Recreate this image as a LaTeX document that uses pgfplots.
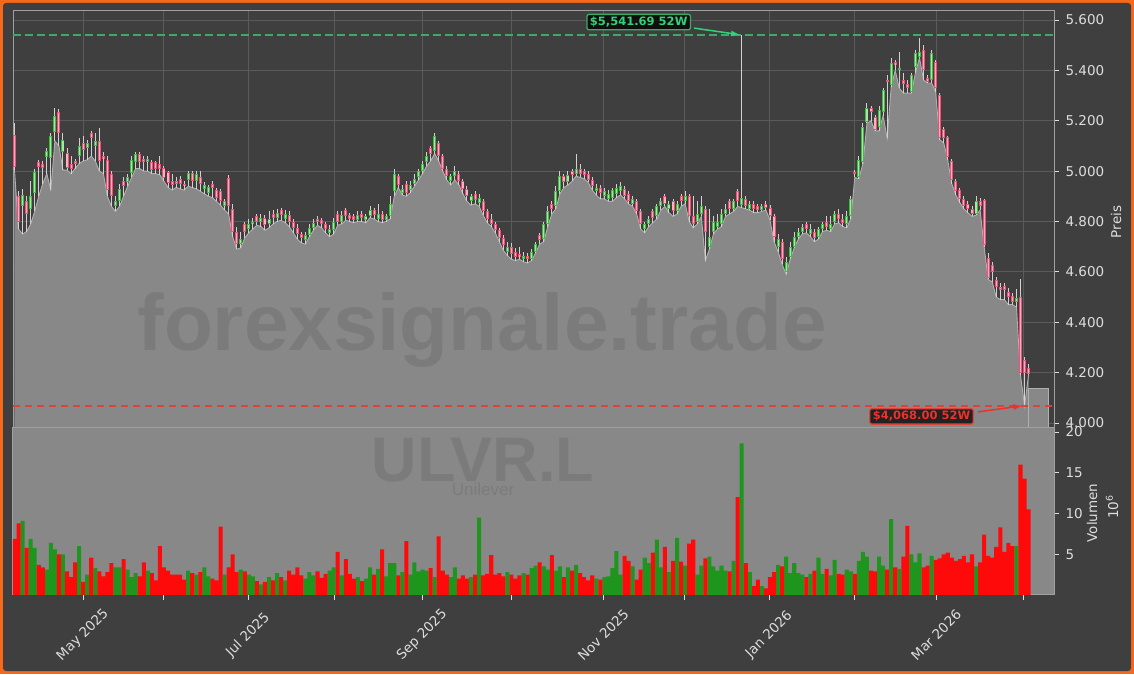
\documentclass[border=0pt]{standalone}
\usepackage{pgfplots}
\pgfplotsset{compat=1.18}
\usepackage{pgfplotstable}
\usepackage{fontspec}
\setmainfont{DejaVu Sans}
\newfontfamily\wmfont{Liberation Sans}
\usetikzlibrary{arrows.meta}

\definecolor{bg}{HTML}{3F3F3F}
\definecolor{frame}{HTML}{F56A1A}
\definecolor{areafill}{HTML}{888888}
\definecolor{arealine}{HTML}{B0B0B0}
\definecolor{gridc}{HTML}{5A5A5A}
\definecolor{spine}{HTML}{A0A0A0}
\definecolor{ticktext}{HTML}{DDDDDD}
\definecolor{upedge}{HTML}{45B845}
\definecolor{upfill}{HTML}{A8E6A8}
\definecolor{dnedge}{HTML}{EE5078}
\definecolor{dnfill}{HTML}{FFB0C0}
\definecolor{wick}{HTML}{D6CED0}
\definecolor{volup}{HTML}{1E961E}
\definecolor{voldn}{HTML}{FF0A0A}
\definecolor{hiline}{HTML}{3DAA6A}
\definecolor{hitext}{HTML}{33D17A}
\definecolor{loline}{HTML}{D9443C}
\definecolor{lotext}{HTML}{F0302A}

% i = trading day, o h l c in pence, v in millions
\pgfplotstableread{
i o h l c v
0 5143 5190 5005 5017 6.9
1 4900 4920 4770 4800 8.8
2 4860 4930 4750 4905 9.1
3 4880 4900 4760 4830 5.8
4 4850 4960 4790 4900 6.9
5 4913 5010 4840 4997 5.8
6 5036 5045 4900 5017 3.7
7 5030 5040 4950 5012 3.4
8 5056 5090 4990 5080 3.1
9 5052 5150 4925 5139 6.4
10 5155 5250 5120 5219 5.6
11 5235 5245 5100 5151 5.0
12 5076 5150 5004 5124 5.0
13 5072 5090 5004 5012 2.9
14 5030 5060 4990 5010 2.2
15 5040 5050 5010 5030 4.0
16 5060 5130 5030 5100 6.0
17 5110 5140 5040 5085 1.6
18 5090 5125 5045 5110 2.5
19 5150 5160 5060 5130 4.6
20 5100 5150 5040 5120 3.3
21 5120 5170 5000 5040 2.9
22 5060 5075 4990 5048 2.3
23 5044 5060 4900 4925 2.8
24 4990 5000 4860 4900 3.9
25 4860 4900 4840 4880 3.4
26 4880 4950 4860 4930 3.4
27 4960 4975 4900 4940 4.4
28 4957 4990 4940 4977 3.1
29 4993 5060 4975 5044 2.2
30 5036 5075 5010 5068 2.7
31 5068 5075 5010 5036 2.3
32 5050 5060 5000 5036 4.0
33 5036 5060 5000 5050 3.0
34 5036 5045 4990 5004 2.7
35 5036 5040 4990 5010 1.8
36 5030 5060 4985 5010 6.0
37 5012 5020 4960 4973 3.4
38 4997 5000 4935 4953 3.0
39 4960 4990 4925 4945 2.5
40 4962 4975 4935 4950 2.5
41 4970 4980 4930 4950 2.5
42 4950 4960 4925 4940 1.9
43 4965 5000 4940 4993 3.0
44 4993 5000 4935 4960 2.7
45 4960 5000 4930 4990 2.5
46 4975 5000 4920 4950 2.8
47 4930 4955 4910 4945 3.4
48 4913 4945 4900 4937 2.3
49 4950 4960 4895 4935 2.0
50 4925 4935 4880 4893 1.8
51 4920 4930 4865 4880 8.4
52 4860 4890 4845 4880 2.5
53 4973 4985 4830 4860 3.4
54 4850 4870 4740 4760 5.0
55 4760 4780 4690 4710 2.8
56 4710 4760 4695 4730 3.1
57 4790 4800 4735 4760 2.9
58 4770 4810 4755 4790 2.5
59 4790 4815 4770 4800 2.3
60 4820 4830 4785 4800 1.7
61 4800 4830 4780 4815 1.3
62 4815 4825 4765 4785 1.6
63 4790 4840 4775 4810 2.2
64 4830 4845 4790 4815 1.8
65 4815 4850 4800 4835 2.7
66 4845 4855 4805 4825 2.2
67 4810 4845 4795 4830 1.8
68 4825 4840 4780 4800 3.0
69 4800 4810 4755 4775 2.5
70 4775 4790 4730 4750 3.4
71 4750 4760 4715 4735 2.4
72 4725 4760 4710 4745 2.0
73 4745 4790 4740 4775 2.8
74 4775 4810 4765 4795 2.4
75 4810 4820 4785 4800 2.9
76 4805 4815 4775 4790 2.1
77 4790 4800 4755 4770 2.6
78 4755 4785 4740 4770 3.0
79 4765 4815 4750 4800 3.4
80 4830 4840 4785 4800 5.3
81 4800 4840 4790 4825 2.4
82 4845 4855 4805 4820 4.4
83 4825 4835 4800 4810 2.6
84 4820 4830 4795 4805 2.0
85 4805 4840 4800 4825 2.2
86 4830 4840 4800 4815 1.7
87 4805 4830 4795 4820 2.0
88 4820 4860 4815 4845 3.4
89 4845 4855 4810 4825 2.5
90 4810 4870 4800 4830 3.2
91 4830 4840 4795 4805 5.6
92 4805 4830 4800 4820 2.3
93 4820 4900 4810 4870 3.9
94 4920 5010 4900 4990 3.9
95 4980 4990 4935 4945 2.4
96 4915 4945 4905 4930 2.8
97 4950 4960 4900 4915 6.6
98 4925 4960 4915 4945 2.5
99 4950 4990 4940 4970 4.0
100 4975 5010 4965 5000 2.9
101 5000 5040 4990 5030 3.1
102 5035 5075 5020 5060 3.0
103 5090 5100 5040 5070 3.3
104 5080 5150 5070 5140 2.2
105 5110 5120 5040 5060 7.2
106 5060 5070 5000 5010 3.0
107 5010 5020 4965 4980 2.5
108 4960 4990 4945 4980 2.2
109 4980 5020 4965 5000 3.4
110 4990 5000 4945 4960 2.0
111 4960 4970 4910 4930 2.4
112 4930 4940 4880 4900 2.0
113 4880 4910 4865 4900 2.2
114 4910 4920 4870 4885 2.5
115 4875 4910 4860 4895 9.5
116 4880 4890 4825 4840 2.4
117 4840 4850 4795 4810 2.6
118 4810 4830 4780 4790 4.9
119 4790 4800 4755 4765 2.5
120 4765 4775 4720 4735 2.7
121 4735 4745 4685 4705 2.3
122 4680 4720 4665 4700 2.8
123 4700 4715 4650 4670 2.5
124 4680 4695 4645 4660 2.0
125 4670 4700 4650 4660 2.4
126 4650 4680 4640 4665 2.7
127 4665 4675 4635 4650 2.5
128 4650 4690 4645 4680 3.3
129 4680 4720 4675 4710 3.6
130 4745 4755 4710 4725 4.0
131 4730 4800 4720 4790 3.5
132 4790 4860 4780 4840 3.1
133 4870 4880 4830 4850 4.9
134 4860 4940 4850 4920 3.0
135 4920 5000 4910 4980 3.5
136 4980 4990 4935 4955 2.2
137 4955 5000 4945 4985 3.4
138 5000 5010 4960 4985 3.0
139 4990 5070 4980 5010 3.7
140 5010 5030 4975 4990 2.7
141 5000 5010 4970 4985 2.2
142 4990 5000 4955 4965 1.8
143 4965 4975 4925 4940 2.4
144 4920 4950 4905 4935 2.0
145 4935 4945 4890 4915 1.9
146 4900 4935 4890 4920 2.2
147 4890 4925 4880 4910 2.3
148 4895 4935 4880 4925 3.3
149 4910 4950 4895 4935 5.4
150 4920 4955 4905 4940 2.5
151 4930 4940 4890 4900 4.8
152 4910 4920 4870 4880 4.2
153 4870 4900 4860 4890 3.5
154 4880 4890 4830 4840 1.9
155 4840 4850 4770 4790 3.1
156 4770 4800 4755 4790 4.6
157 4790 4820 4780 4810 3.9
158 4840 4850 4795 4815 5.2
159 4820 4870 4810 4860 6.8
160 4860 4895 4845 4880 3.4
161 4900 4910 4860 4870 5.9
162 4850 4880 4835 4870 2.8
163 4880 4890 4820 4840 4.2
164 4840 4880 4830 4870 7.0
165 4900 4910 4860 4880 4.1
166 4880 4920 4870 4900 3.6
167 4900 4910 4800 4820 6.3
168 4820 4900 4775 4790 6.8
169 4800 4880 4790 4830 2.5
170 4830 4900 4820 4860 3.6
171 4850 4860 4645 4760 4.5
172 4700 4850 4690 4740 4.7
173 4760 4820 4750 4800 3.5
174 4780 4830 4770 4800 3.0
175 4790 4850 4780 4830 3.6
176 4830 4870 4820 4850 3.0
177 4880 4890 4830 4850 2.9
178 4850 4890 4840 4880 4.2
179 4920 4930 4860 4880 12.0
180 4866 5541.69 4855 4893 18.6
181 4890 4900 4850 4860 3.9
182 4850 4880 4845 4870 2.8
183 4870 4880 4835 4850 1.1
184 4860 4870 4835 4845 1.9
185 4845 4870 4840 4860 1.1
186 4870 4880 4845 4855 0.8
187 4855 4865 4805 4820 2.2
188 4820 4830 4720 4740 2.8
189 4700 4750 4680 4730 3.7
190 4720 4730 4630 4650 3.5
191 4600 4660 4590 4640 4.7
192 4660 4720 4650 4700 2.7
193 4700 4760 4695 4740 3.9
194 4740 4775 4730 4760 2.7
195 4760 4790 4750 4780 2.5
196 4790 4800 4755 4770 2.2
197 4750 4790 4740 4770 2.6
198 4760 4770 4720 4735 3.0
199 4740 4780 4730 4770 4.6
200 4770 4800 4760 4790 2.6
201 4800 4820 4765 4780 3.2
202 4770 4820 4760 4790 2.4
203 4800 4840 4790 4830 4.3
204 4830 4850 4795 4810 2.6
205 4810 4830 4780 4795 2.5
206 4790 4840 4775 4820 3.1
207 4820 4900 4810 4890 2.9
208 4997 5005 4975 4989 2.6
209 4977 5060 4970 5044 4.2
210 5036 5190 5030 5175 5.3
211 5195 5270 5190 5250 4.7
212 5250 5260 5200 5234 3.0
213 5215 5225 5160 5163 2.9
214 5175 5260 5160 5243 4.7
215 5235 5330 5220 5322 3.6
216 5362 5380 5131 5354 3.1
217 5342 5450 5335 5429 9.3
218 5433 5440 5400 5421 3.4
219 5402 5473 5330 5410 3.2
220 5360 5390 5310 5345 4.7
221 5345 5362 5310 5330 8.5
222 5314 5390 5310 5382 5.0
223 5413 5480 5390 5469 4.0
224 5453 5528 5450 5473 5.1
225 5481 5500 5362 5401 3.4
226 5370 5380 5350 5354 3.6
227 5362 5480 5350 5469 4.8
228 5433 5440 5314 5330 4.3
229 5302 5310 5125 5131 4.5
230 5167 5175 5112 5131 5.0
231 5135 5140 5044 5056 5.2
232 5040 5050 4950 4965 4.6
233 4960 4970 4905 4920 4.2
234 4925 4935 4875 4890 4.4
235 4890 4900 4850 4860 4.8
236 4870 4880 4835 4850 4.0
237 4850 4860 4820 4830 5.0
238 4830 4900 4825 4880 3.5
239 4880 4895 4845 4860 4.0
240 4885 4890 4700 4707 7.4
241 4655 4675 4570 4576 4.8
242 4627 4640 4560 4600 4.6
243 4568 4580 4500 4540 5.9
244 4540 4555 4490 4528 8.3
245 4545 4555 4490 4528 5.3
246 4520 4536 4470 4500 6.4
247 4504 4515 4470 4480 6.0
248 4480 4530 4460 4495 6.0
249 4500 4572 4190 4200 16.0
250 4250 4260 4068 4200 14.3
251 4220 4235 4190 4195 10.5
}\data

\pgfplotsset{
  lbl/.style={text=ticktext, font=\fontsize{13.5}{16}\selectfont},
  panel/.style={
    scale only axis, anchor=south west, width=1041pt,
    xmin=-0.37, xmax=257.3,
    axis line style={spine, line width=1pt},
    tick align=outside, major tick length=5pt,
    tick style={ticktext, line width=0.8pt},
    ytick pos=right, yticklabel pos=right,
    yticklabel style={lbl, xshift=3pt,
      /pgf/number format/fixed, /pgf/number format/precision=0,
      /pgf/number format/1000 sep={.},
      /pgf/number format/assume math mode=true},
    scaled y ticks=false,
    clip mode=individual,
  },
  % candle pieces: error bars only, no marks, no line
  bodybar/.style 2 args={draw=none, mark=none, forget plot,
    /pgfplots/error bars/y dir=both, /pgfplots/error bars/y explicit,
    /pgfplots/error bars/error mark=none,
    /pgfplots/error bars/error bar style={draw=#1, line width=#2}},
}

\begin{document}
\begin{tikzpicture}[x=1pt,y=1pt]
\useasboundingbox (0,0) rectangle (1134,674);
\fill[frame] (0,0) rectangle (1134,674);
\fill[bg, rounded corners=3pt] (3,3) rectangle (1131,671);

% price panel
\begin{axis}[panel, at={(13pt,246pt)}, height=417pt,
  ymin=3980, ymax=5636,
  xtick=\empty, ytick={4000,4200,...,5600},
  ymajorgrids, grid style={gridc, line width=0.8pt}]
  \pgfplotsinvokeforeach{16.95,36.76,57.8,79.3,100.9,122.9,145.7,165.7,186.8,207.8,228.1,249.6}{
    \draw[gridc, line width=0.8pt] (axis cs:#1,3980) -- (axis cs:#1,5636);}
  \addplot[draw=none, fill=areafill] table[x=i, y=l] {\data} \closedcycle;
  \addplot[draw=arealine, line width=0.9pt, fill=areafill] coordinates {(251,4139) (255.8,4139)} \closedcycle;
  \addplot[arealine, line width=0.9pt] table[x=i, y=l] {\data};
  % wicks
  \addplot[bodybar={wick}{1pt}]
    table[x=i, y expr={(\thisrow{h}+\thisrow{l})/2}, y error expr={(\thisrow{h}-\thisrow{l})/2}] {\data};
  % rising bodies
  \addplot[restrict expr to domain={\thisrow{c}-\thisrow{o}}{0:100000}, bodybar={upedge}{3pt}]
    table[x=i, y expr={(\thisrow{o}+\thisrow{c})/2}, y error expr={max(abs(\thisrow{c}-\thisrow{o})/2,5)}] {\data};
  \addplot[restrict expr to domain={\thisrow{c}-\thisrow{o}}{0:100000}, bodybar={upfill}{1.1pt}]
    table[x=i, y expr={(\thisrow{o}+\thisrow{c})/2}, y error expr={max(abs(\thisrow{c}-\thisrow{o})/2-4,0)}] {\data};
  % falling bodies
  \addplot[restrict expr to domain={\thisrow{o}-\thisrow{c}}{0.001:100000}, bodybar={dnedge}{3pt}]
    table[x=i, y expr={(\thisrow{o}+\thisrow{c})/2}, y error expr={max(abs(\thisrow{c}-\thisrow{o})/2,5)}] {\data};
  \addplot[restrict expr to domain={\thisrow{o}-\thisrow{c}}{0.001:100000}, bodybar={dnfill}{1.1pt}]
    table[x=i, y expr={(\thisrow{o}+\thisrow{c})/2}, y error expr={max(abs(\thisrow{c}-\thisrow{o})/2-4,0)}] {\data};
  % 52 week high / low
  \draw[hiline, line width=1.8pt, dash pattern=on 8pt off 4pt] (axis cs:-0.37,5541.69) -- (axis cs:257.3,5541.69);
  \draw[loline, line width=1.5pt, dash pattern=on 7pt off 5pt] (axis cs:-0.37,4068) -- (axis cs:257.3,4068);
  \draw[hitext, line width=1.5pt, -{Latex[length=9pt,width=6pt]}] (axis cs:168.2,5568) -- (axis cs:179.6,5541.69);
  \draw[lotext, line width=1.5pt, -{Latex[length=9pt,width=6pt]}] (axis cs:238.5,4044) -- (axis cs:249.5,4068);
  \node[fill=black, fill opacity=0.75, text opacity=1, draw=hiline, line width=1.3pt, rounded corners=2pt,
    inner xsep=3pt, inner ysep=2.5pt, text=hitext, font=\bfseries\fontsize{11.5}{13}\selectfont]
    at (axis cs:154.5,5592) {\$5,541.69 52W};
  \node[fill=black, fill opacity=0.75, text opacity=1, draw=loline, line width=1.3pt, rounded corners=2pt,
    inner xsep=3pt, inner ysep=2.5pt, text=lotext, font=\bfseries\fontsize{11.5}{13}\selectfont]
    at (axis cs:224.5,4026) {\$4,068.00 52W};
\end{axis}

% volume panel
\begin{axis}[panel, at={(13pt,79pt)}, height=167pt,
  ymin=0, ymax=20.5, ytick={5,10,15,20},
  axis background/.style={fill=areafill},
  xtick pos=bottom,
  xtick={16.95,36.76,57.8,79.3,100.9,122.9,145.7,165.7,186.8,207.8,228.1,249.6},
  xticklabels={May 2025,,Jul 2025,,Sep 2025,,Nov 2025,,Jan 2026,,Mar 2026,},
  xticklabel style={lbl, anchor=center, yshift=-35pt, rotate=45}]
  \addplot[ybar, bar width=1, bar shift=0pt, draw=none, fill=volup,
    restrict expr to domain={\thisrow{c}-\thisrow{o}}{0:100000}] table[x=i, y=v] {\data};
  \addplot[ybar, bar width=1, bar shift=0pt, draw=none, fill=voldn,
    restrict expr to domain={\thisrow{o}-\thisrow{c}}{0.001:100000}] table[x=i, y=v] {\data};
\end{axis}

% axis titles
\node[rotate=90, text=ticktext, font=\fontsize{13.5}{16}\selectfont] at (1116,452) {Preis};
\node[rotate=90, text=ticktext, font=\fontsize{13.5}{16}\selectfont] at (1092,161) {Volumen};
\node[rotate=90, text=ticktext, font=\fontsize{13.5}{16}\selectfont] at (1112,167) {10\textsuperscript{6}};

% watermark
\node[anchor=base, text=black, text opacity=0.09, font=\wmfont\bfseries\fontsize{80}{80}\selectfont] at (482,323) {forexsignale.trade};
\node[anchor=base, text=black, text opacity=0.09, font=\wmfont\bfseries\fontsize{63}{63}\selectfont] at (483,192) {ULVR.L};
\node[anchor=base, text=black, text opacity=0.09, font=\wmfont\fontsize{17}{17}\selectfont] at (483,178) {Unilever};
\end{tikzpicture}
\end{document}
